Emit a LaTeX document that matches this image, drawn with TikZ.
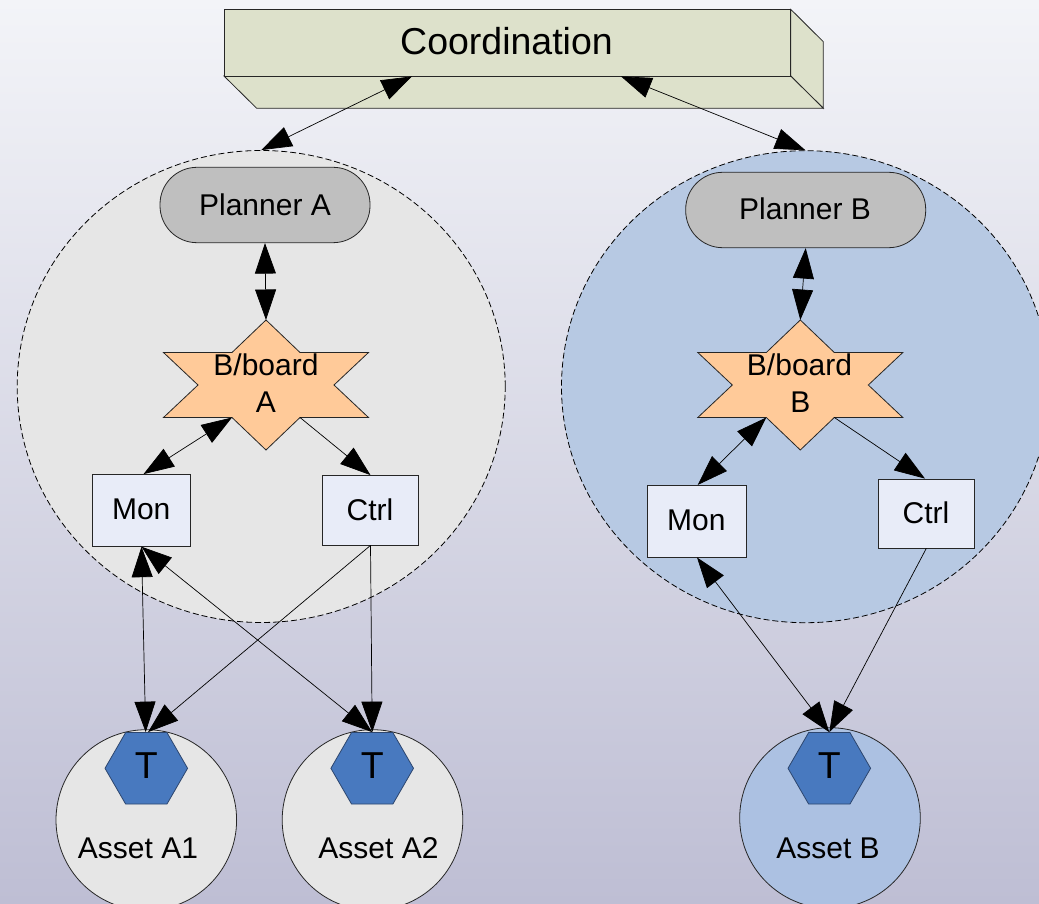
\documentclass[tikz,border=0pt]{standalone}
\usepackage{fontspec}
\setmainfont{Liberation Sans}
\usetikzlibrary{arrows.meta,shapes.geometric}
\definecolor{bgtop}{RGB}{243,244,248}
\definecolor{bgbot}{RGB}{190,190,212}
\definecolor{coordfill}{RGB}{221,225,203}
\definecolor{greyreg}{RGB}{230,230,230}
\definecolor{bluereg}{RGB}{183,201,227}
\definecolor{planfill}{RGB}{191,191,191}
\definecolor{starfill}{RGB}{255,202,153}
\definecolor{boxfill}{RGB}{232,236,248}
\definecolor{hexfill}{RGB}{72,121,191}
\definecolor{hexborder}{RGB}{45,70,110}
\definecolor{assetbfill}{RGB}{172,193,226}
\begin{document}
\begin{tikzpicture}[x=1pt,y=-1pt,
  ln/.style={line width=0.8pt, draw=black!85},
  lbl/.style={inner sep=0pt, font=\fontsize{30}{36}\selectfont, text height=21.5pt, text depth=0pt},
  tlbl/.style={inner sep=0pt, font=\fontsize{37.5}{45}\selectfont, text height=26.8pt, text depth=0pt},
  tip/.tip={Triangle[length=30.5pt,width=21pt]},
  dbl/.style={line width=0.7pt, tip-tip},
  one/.style={line width=0.7pt, -tip},
  region/.style={ellipse, draw=black, dash pattern=on 6pt off 3pt, line width=0.8pt, minimum width=488pt, minimum height=472pt, inner sep=0pt},
  plan/.style={ln, fill=planfill, rounded corners=37pt, minimum height=75.4pt, inner sep=0pt},
  starsty/.style={ln, fill=starfill},
  boxsty/.style={ln, fill=boxfill, inner sep=0pt},
  asset/.style={circle, ln, minimum size=180.6pt, inner sep=0pt},
  hexsty/.style={regular polygon, regular polygon sides=6, minimum size=82.6pt, draw=hexborder, fill=hexfill, inner sep=0pt, line width=0.8pt}
]
\useasboundingbox (0,0) rectangle (1039,904);
\clip (0,0) rectangle (1039,904);
\shade[top color=bgtop, bottom color=bgbot] (0,0) rectangle (1039,904);

% Coordination box
\filldraw[ln, fill=coordfill] (790.7,9.3) -- (823.3,41.7) -- (823.3,108.3) -- (790.7,76) -- cycle;
\filldraw[ln, fill=coordfill] (224,76) -- (790.7,76) -- (823.3,108.3) -- (256.7,108.3) -- cycle;
\node[ln, fill=coordfill, minimum width=566.7pt, minimum height=66.7pt, inner sep=0pt] (coord) at (507.35,42.65) {};
\node[tlbl] (coordtxt) at (506.5,41) {Coordination};

% Regions
\node[region, fill=greyreg] (regA) at (261.2,386.5) {};
\node[region, fill=bluereg] (regB) at (805.5,386.7) {};

% Planners
\node[plan, minimum width=210pt] (planA) at (265,205) {};
\node[lbl] (planAtxt) at (265,204.3) {Planner A};
\node[plan, minimum width=240pt] (planB) at (805.7,210) {};
\node[lbl] (planBtxt) at (805,209) {Planner B};

% Blackboards
\foreach \cx in {266, 800.3}{
  \filldraw[starsty, shift={(\cx,385)}] (0,-65) -- (34,-32.5) -- (102.5,-32.5) -- (68,0) -- (102.5,32.5) -- (34,32.5) -- (0,65) -- (-34,32.5) -- (-102.5,32.5) -- (-68,0) -- (-102.5,-32.5) -- (-34,-32.5) -- cycle;
}
\coordinate (sAtop) at (266,320);
\coordinate (sAbl) at (232,417.5);
\coordinate (sAbr) at (300,417.5);
\coordinate (sBtop) at (800.3,320);
\coordinate (sBbl) at (766.3,417.5);
\coordinate (sBbr) at (834.3,417.5);
\node[lbl] (bbA1) at (266,365) {B/board};
\node[lbl] (bbA2) at (266,401.7) {A};
\node[lbl] (bbB1) at (799.5,365) {B/board};
\node[lbl] (bbB2) at (800.3,401.7) {B};

% Mon / Ctrl
\node[boxsty, minimum width=98.4pt, minimum height=71.8pt] (monA) at (141.5,510.4) {};
\node[lbl] (monAtxt) at (141.2,508.3) {Mon};
\node[boxsty, minimum width=96pt, minimum height=69.5pt] (ctrlA) at (370.5,510.25) {};
\node[lbl] (ctrlAtxt) at (370,509.3) {Ctrl};
\node[boxsty, minimum width=99.4pt, minimum height=71.7pt] (monB) at (697,521.2) {};
\node[lbl] (monBtxt) at (696.3,520) {Mon};
\node[boxsty, minimum width=96pt, minimum height=69pt] (ctrlB) at (926.3,513.5) {};
\node[lbl] (ctrlBtxt) at (926,512.7) {Ctrl};

% Assets
\node[asset, fill=greyreg] (assetA1) at (146.3,820) {};
\node[asset, fill=greyreg] (assetA2) at (372.5,820) {};
\node[asset, fill=assetbfill] (assetB) at (830,818) {};
\node[lbl] (assetA1txt) at (138,848) {Asset A1};
\node[lbl] (assetA2txt) at (378.5,848) {Asset A2};
\node[lbl] (assetBtxt) at (828,848) {Asset B};

\node[hexsty] (hexA1) at (146.3,768.3) {};
\node[hexsty] (hexA2) at (372.2,768.3) {};
\node[hexsty] (hexB) at (829.3,768.3) {};
\node[tlbl] (tA1) at (146.3,765) {T};
\node[tlbl] (tA2) at (372.2,765) {T};
\node[tlbl] (tB) at (829.3,765) {T};

% Connectors
\draw[dbl] ([xshift=-95.35pt]coord.south) -- (regA.north);
\draw[dbl] ([xshift=113.65pt]coord.south) -- (regB.north);
\draw[dbl] (planA.south) -- (sAtop);
\draw[dbl] (sAbl) -- ([xshift=2pt]monA.north);
\draw[one] (sAbr) -- (ctrlA.north);
\draw[dbl] (monA.south) -- ([xshift=-0.6pt]hexA1.north);
\draw[dbl] (monA.south) -- (hexA2.north);
\draw[one] (ctrlA.south) -- ([xshift=1.7pt]hexA1.north);
\draw[one] (ctrlA.south) -- (hexA2.north);
\draw[dbl] (planB.south) -- (sBtop);
\draw[dbl] (sBbl) -- ([xshift=0.7pt]monB.north);
\draw[one] (sBbr) -- ([xshift=-1.3pt]ctrlB.north);
\draw[dbl] (monB.south) -- (hexB.north);
\draw[one] (ctrlB.south) -- (hexB.north);
\end{tikzpicture}
\end{document}
